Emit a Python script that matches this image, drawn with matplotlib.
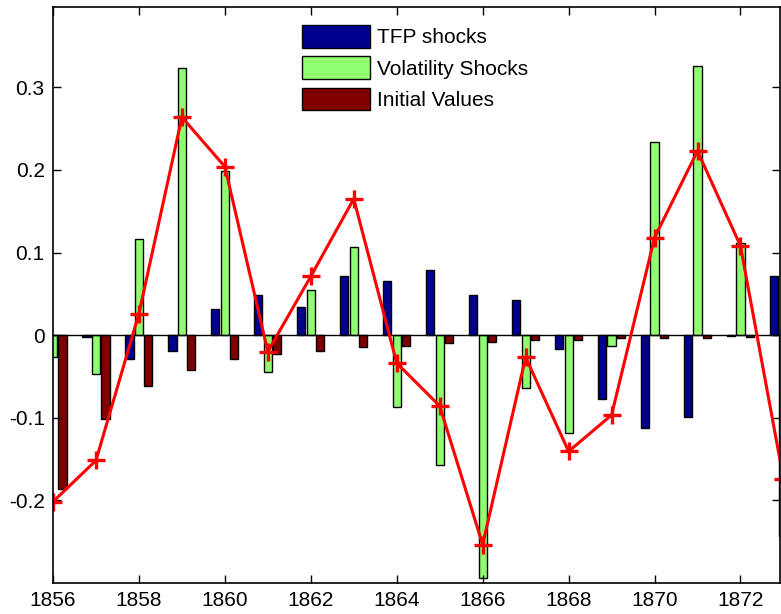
import numpy as np
import matplotlib
matplotlib.use("Agg")
import matplotlib.pyplot as plt

plt.rcParams["font.family"] = ["Liberation Sans", "DejaVu Sans"]

years = list(range(1856, 1874))
tfp_shocks = [0.0, -0.003, -0.029, -0.019, 0.032, 0.048, 0.034, 0.071, 0.065,
              0.079, 0.048, 0.042, -0.017, -0.078, -0.113, -0.099, -0.001, 0.0715]
vol_shocks = [-0.027, -0.047, 0.116, 0.324, 0.199, -0.045, 0.055, 0.107, -0.087,
              -0.158, -0.294, -0.064, -0.119, -0.013, 0.234, 0.326, 0.112, -0.244]
init_values = [-0.187, -0.102, -0.062, -0.042, -0.029, -0.023, -0.019, -0.015, -0.013,
               -0.010, -0.0085, -0.006, -0.006, -0.004, -0.004, -0.004, -0.003, -0.003]
total = [-0.202, -0.152, 0.026, 0.264, 0.204, -0.020, 0.071, 0.165, -0.034,
         -0.086, -0.254, -0.027, -0.141, -0.097, 0.118, 0.223, 0.108, -0.174]

x = np.array(years)
width = 0.19
offset = 0.22

fig = plt.figure(figsize=(7.81, 6.14), dpi=100)
ax = fig.add_axes([53 / 781, 31 / 614, 727 / 781, 576 / 614])

ax.bar(x - offset, tfp_shocks, width, color="#00008f", edgecolor="black",
       linewidth=1, label="TFP shocks")
ax.bar(x, vol_shocks, width, color="#8fff70", edgecolor="black",
       linewidth=1, label="Volatility Shocks")
ax.bar(x + offset, init_values, width, color="#800000", edgecolor="black",
       linewidth=1, label="Initial Values")
ax.axhline(0, color="black", linewidth=1)
ax.plot(x, total, color="red", linewidth=2.2, marker="+", markersize=13,
        markeredgewidth=2.4)

ax.set_xlim(1856, 1872.92)
ax.set_ylim(-0.3005, 0.3975)
ax.set_xticks(range(1856, 1873, 2))
ax.set_yticks([-0.2, -0.1, 0, 0.1, 0.2, 0.3])
ax.set_yticklabels(["-0.2", "-0.1", "0", "0.1", "0.2", "0.3"])
ax.tick_params(direction="in", length=6, width=1, labelsize=15,
               top=True, right=True, pad=6)
for s in ax.spines.values():
    s.set_linewidth(1.2)

ax.legend(loc="upper left", bbox_to_anchor=(0.342, 0.969), frameon=False,
          fontsize=15, handlelength=3.3, handleheight=1.3,
          labelspacing=0.42, handletextpad=0.3, borderpad=0, borderaxespad=0)

fig.savefig("out.png", dpi=100)
